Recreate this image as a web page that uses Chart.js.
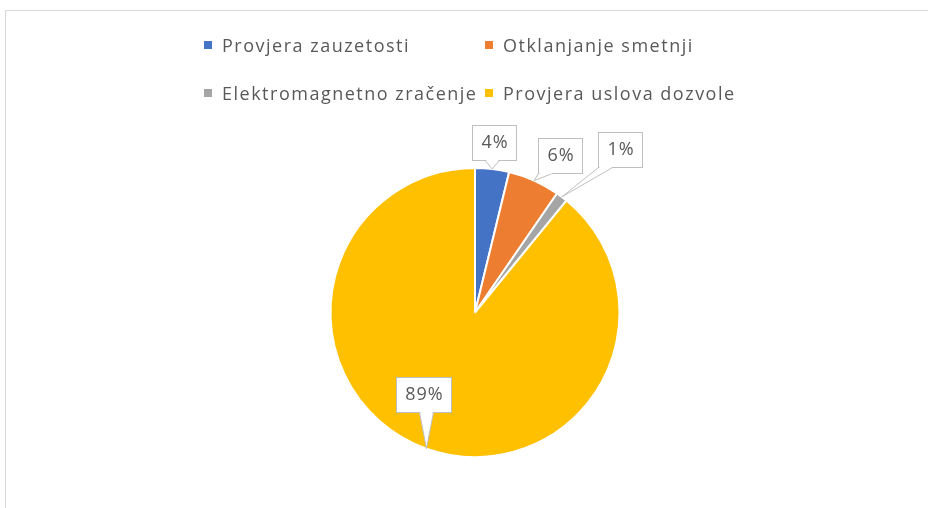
<!DOCTYPE html>
<html lang="en">
<head>
    <meta charset="UTF-8">
    <title>Pie chart</title>
    <script src="https://cdn.jsdelivr.net/npm/chart.js"></script>
    <style>
        html, body { margin: 0; padding: 0; background: #fff; overflow: hidden; }
        #frame { position: absolute; left: 5px; top: 10px; width: 940px; height: 520px; border: 1px solid #d9d9d9; }
        #chart { position: absolute; left: 0; top: 0; }
        .item { position: absolute; font: 18px "Open Sans", sans-serif; letter-spacing: 1.5px; color: #595959; line-height: 24px; white-space: nowrap; }
        .item i { position: absolute; left: -18px; top: 8px; width: 8px; height: 8px; }
    </style>
</head>
<body>
    <div id="frame"></div>
    <canvas id="chart" width="928" height="508"></canvas>
    <div id="legend"></div>

    <script>
        const categories = ['Provjera zauzetosti', 'Otklanjanje smetnji', 'Elektromagnetno zračenje', 'Provjera uslova dozvole'];
        const shares = [3.8, 5.8, 1.3, 89.1];
        const colors = ['#4472C4', '#ED7D31', '#A5A5A5', '#FFC000'];

        // callout placement: box angle offset from slice middle (deg) and distance in radii
        const callouts = [
            { shift: -0.5, dist: 1.186 },
            { shift: 4.2, dist: 1.234 },
            { shift: 4.8, dist: 1.51 },
            { shift: 12.2, dist: 0.67 }
        ];

        // legend laid out as a 2x2 grid like the original
        const legendDiv = document.getElementById('legend');
        categories.forEach((name, i) => {
            const el = document.createElement('div');
            el.className = 'item';
            el.style.left = (i % 2 === 0 ? 222 : 503) + 'px';
            el.style.top = (i < 2 ? 33 : 81) + 'px';
            el.innerHTML = `<i style="background:${colors[i]}"></i>${name}`;
            legendDiv.appendChild(el);
        });

        const calloutPlugin = {
            id: 'callouts',
            afterDatasetsDraw(chart) {
                const ctx = chart.ctx;
                const meta = chart.getDatasetMeta(0);
                const total = shares.reduce((a, b) => a + b, 0);
                ctx.save();
                ctx.font = '18px "Open Sans", sans-serif';
                ctx.letterSpacing = '1px';
                meta.data.forEach((arc, i) => {
                    const p = arc.getProps(['x', 'y', 'startAngle', 'endAngle', 'outerRadius'], true);
                    const mid = (p.startAngle + p.endAngle) / 2;
                    const c = callouts[i];
                    const ang = mid + c.shift * Math.PI / 180;
                    const bx = p.x + Math.cos(ang) * p.outerRadius * c.dist;
                    const by = p.y + Math.sin(ang) * p.outerRadius * c.dist;
                    const tx = p.x + Math.cos(mid) * p.outerRadius;
                    const ty = p.y + Math.sin(mid) * p.outerRadius;

                    const text = Math.round(shares[i] / total * 100) + '%';
                    const w = Math.round(ctx.measureText(text).width + 17);
                    const h = 35;
                    const left = Math.round(bx - w / 2) + 0.5, top = Math.round(by - h / 2) + 0.5;

                    // pointer wedge on the box edge facing the tip
                    const cx = Math.min(Math.max(tx, left + 7), left + w - 7);
                    const edge = ty > top + h ? top + h : top;
                    const b1 = [cx - 7, edge], b2 = [cx + 7, edge];
                    ctx.fillStyle = '#fff';
                    ctx.strokeStyle = '#bfbfbf';
                    ctx.lineWidth = 1;
                    ctx.beginPath();
                    ctx.moveTo(b1[0], b1[1]);
                    ctx.lineTo(tx, ty);
                    ctx.lineTo(b2[0], b2[1]);
                    ctx.closePath();
                    ctx.fill();
                    ctx.stroke();

                    ctx.fillRect(left, top, w, h);
                    ctx.strokeRect(left, top, w, h);
                    ctx.beginPath();
                    ctx.moveTo(b1[0] + 1, b1[1]);
                    ctx.lineTo(b2[0] - 1, b2[1]);
                    ctx.strokeStyle = '#fff';
                    ctx.stroke();

                    ctx.fillStyle = '#595959';
                    ctx.textAlign = 'center';
                    ctx.textBaseline = 'middle';
                    ctx.fillText(text, left + w / 2 + 0.5, top + h / 2);
                });
                ctx.restore();
            }
        };

        new Chart(document.getElementById('chart'), {
            type: 'pie',
            data: {
                labels: categories,
                datasets: [{
                    data: shares,
                    backgroundColor: colors,
                    borderColor: '#ffffff',
                    borderWidth: 2
                }]
            },
            options: {
                responsive: false,
                animation: false,
                devicePixelRatio: 1,
                layout: { padding: { top: 167, bottom: 50, left: 22, right: 0 } },
                plugins: {
                    legend: { display: false },
                    tooltip: { enabled: false }
                }
            },
            plugins: [calloutPlugin]
        });
    </script>
</body>
</html>
